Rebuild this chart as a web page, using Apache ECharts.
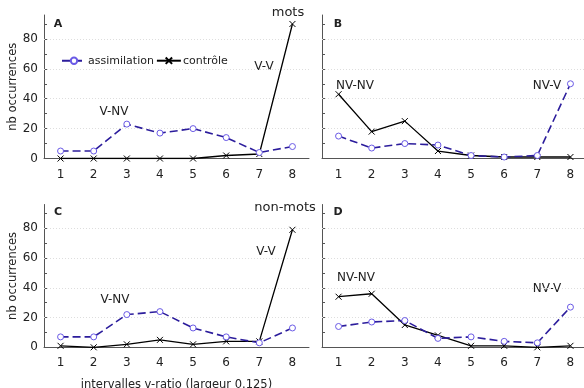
<!DOCTYPE html>
<html>
<head>
<meta charset="utf-8">
<script src="https://cdn.jsdelivr.net/npm/echarts@6/dist/echarts.min.js"></script>
<style>
  html, body { margin: 0; padding: 0; background: #fff; }
  #chart { width: 584px; height: 388px; }
</style>
</head>
<body>
<div id="chart"></div>
<script>
const categories = ['1', '2', '3', '4', '5', '6', '7', '8']

// A: mots, voyelle finale V
const assimA = [5, 5, 23, 17, 20, 14, 4, 8]
const controleA = [0, 0, 0, 0, 0, 2, 3, 90]
// B: mots, NV
const assimB = [15, 7, 10, 9, 2, 1, 2, 50]
const controleB = [43, 18, 25, 5, 2, 1, 1, 1]
// C: non-mots, V
const assimC = [7, 7, 22, 24, 13, 7, 3, 13]
const controleC = [1, 0, 2, 5, 2, 4, 4, 79]
// D: non-mots, NV
const assimD = [14, 17, 18, 6, 7, 4, 3, 27]
const controleD = [34, 36, 15, 8, 1, 1, 0, 1]

const yTicks = [0, 10, 20, 30, 40, 50, 60, 70, 80, 90]
const yLabels = [0, 20, 40, 60, 80]
const gridValues = [20, 40, 60, 80]

const FONT = 'DejaVu Sans'
const BLUE = '#2c1d9c'
const MARK = '#6a5ae6'
const X_SYMBOL = 'path://M0,0L10,10M10,0L0,10'

const grids = [
  { left: 44, top: 15, width: 265, height: 143.5 },
  { left: 322, top: 15, width: 265, height: 143.5 },
  { left: 44, top: 204.5, width: 265, height: 142.8 },
  { left: 322, top: 204.5, width: 265, height: 142.8 }
].map((g) => Object.assign(g, { outerBoundsMode: 'none', containLabel: false }))

function xAxis(i) {
  const ax = {
    type: 'category',
    gridIndex: i,
    data: categories,
    boundaryGap: true,
    axisLine: { lineStyle: { color: '#555', width: 1 } },
    axisTick: { interval: 0, length: 4, lineStyle: { color: '#555' } },
    axisLabel: { color: '#222', fontFamily: FONT, fontSize: 12, margin: 10 }
  }
  if (i === 2) {
    ax.name = 'intervalles v-ratio (largeur 0.125)'
    ax.nameLocation = 'middle'
    ax.nameGap = 32
    ax.nameTextStyle = { color: '#222', fontFamily: FONT, fontSize: 11.5 }
  }
  return ax
}

function yAxis(i) {
  const showLabels = i === 0 || i === 2
  const ax = {
    type: 'value',
    gridIndex: i,
    min: 0,
    max: 96,
    interval: 20,
    axisLine: { show: true, lineStyle: { color: '#555', width: 1 } },
    axisTick: { show: true, inside: true, length: 3, customValues: yTicks, lineStyle: { color: '#555' } },
    axisLabel: showLabels
      ? { customValues: yLabels, color: '#222', fontFamily: FONT, fontSize: 12, margin: 6 }
      : { show: false },
    splitLine: { show: false }
  }
  if (showLabels) {
    ax.name = 'nb occurrences'
    ax.nameLocation = 'middle'
    ax.nameGap = 25
    ax.nameTextStyle = { color: '#222', fontFamily: FONT, fontSize: 11.5 }
  }
  return ax
}

function assimSeries(i, data) {
  return {
    name: 'assimilation',
    type: 'line',
    xAxisIndex: i,
    yAxisIndex: i,
    data: data,
    symbol: 'circle',
    symbolSize: 6,
    showAllSymbol: true,
    lineStyle: { color: BLUE, width: 1.6, type: [8, 4] },
    itemStyle: { color: '#fff', borderColor: MARK, borderWidth: 1 },
    z: 3,
    animation: false,
    // faint dotted horizontal guides at the labelled values
    markLine: {
      silent: true,
      symbol: 'none',
      label: { show: false },
      lineStyle: { color: '#dedede', type: [1, 2], width: 1 },
      z: 1,
      data: gridValues.map((v) => ({ yAxis: v }))
    }
  }
}

function controleSeries(i, data) {
  return {
    name: 'contrôle',
    type: 'line',
    xAxisIndex: i,
    yAxisIndex: i,
    data: data,
    symbol: X_SYMBOL,
    symbolSize: 6,
    showAllSymbol: true,
    lineStyle: { color: '#000', width: 1.3 },
    itemStyle: { color: 'none', borderColor: '#000', borderWidth: 1 },
    z: 2,
    animation: false
  }
}

function txt(x, y, text, opts) {
  return {
    type: 'text',
    x: x,
    y: y,
    style: Object.assign({
      text: text,
      fill: '#222',
      font: '12px "' + FONT + '"',
      align: 'center',
      verticalAlign: 'middle'
    }, opts || {})
  }
}

const chart = echarts.init(document.getElementById('chart'), null, { renderer: 'canvas' })
chart.setOption({
  animation: false,
  backgroundColor: '#fff',
  grid: grids,
  xAxis: [0, 1, 2, 3].map(xAxis),
  yAxis: [0, 1, 2, 3].map(yAxis),
  legend: {
    data: ['assimilation', 'contrôle'],
    left: 56,
    top: 50,
    itemWidth: 24,
    itemHeight: 8,
    itemGap: 2,
    textStyle: { color: '#222', fontFamily: FONT, fontSize: 11, padding: [0, 0, 0, -3] },
    selectedMode: false
  },
  series: [
    assimSeries(0, assimA), controleSeries(0, controleA),
    assimSeries(1, assimB), controleSeries(1, controleB),
    assimSeries(2, assimC), controleSeries(2, controleC),
    assimSeries(3, assimD), controleSeries(3, controleD)
  ],
  graphic: [
    txt(58, 24, 'A', { font: 'bold 11px "' + FONT + '"' }),
    txt(338, 24, 'B', { font: 'bold 11px "' + FONT + '"' }),
    txt(58, 212, 'C', { font: 'bold 11px "' + FONT + '"' }),
    txt(338, 212, 'D', { font: 'bold 11px "' + FONT + '"' }),
    txt(288, 13, 'mots', { font: '13px "' + FONT + '"' }),
    txt(285, 208, 'non-mots', { font: '13px "' + FONT + '"' }),
    txt(114, 112, 'V-NV'),
    txt(264, 67, 'V-V'),
    txt(355, 86, 'NV-NV'),
    txt(547, 86, 'NV-V'),
    txt(115, 300, 'V-NV'),
    txt(266, 252, 'V-V'),
    txt(356, 278, 'NV-NV'),
    txt(547, 289, 'NV-V')
  ]
})
</script>
</body>
</html>
